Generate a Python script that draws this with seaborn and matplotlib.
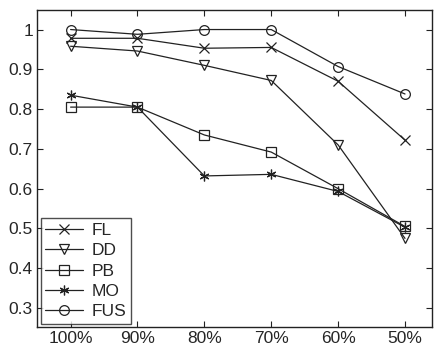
import pandas as pd
import matplotlib.pyplot as plt
import seaborn as sns

# Data
levels = ['100%', '90%', '80%', '70%', '60%', '50%']
fl = [0.978, 0.978, 0.953, 0.955, 0.870, 0.722]
dd = [0.958, 0.946, 0.910, 0.872, 0.710, 0.475]
pb = [0.805, 0.805, 0.735, 0.692, 0.600, 0.505]
mo = [0.835, 0.805, 0.632, 0.636, 0.593, 0.503]
fus = [1.000, 0.988, 1.000, 1.000, 0.907, 0.838]

series = {'FL': fl, 'DD': dd, 'PB': pb, 'MO': mo, 'FUS': fus}
markers = {'FL': 'x', 'DD': 'v', 'PB': 's', 'MO': (6, 2, 0), 'FUS': 'o'}

rows = []
for name, vals in series.items():
    for i, v in enumerate(vals):
        rows.append({'pos': i + 1, 'value': v, 'method': name})
df = pd.DataFrame(rows)

sns.set_style('ticks')
plt.rcParams['font.family'] = ['Liberation Sans', 'DejaVu Sans']

fig, ax = plt.subplots(figsize=(4.37, 3.48), dpi=100)

for name in series:
    sub = df[df['method'] == name]
    sns.lineplot(data=sub, x='pos', y='value', ax=ax, color='#222222',
                 linewidth=0.9, marker=markers[name], markersize=7,
                 markerfacecolor='none', markeredgecolor='#222222',
                 markeredgewidth=0.9, label=name)

ax.set_xlim(0.5, 6.4)
ax.set_ylim(0.252, 1.048)
ax.set_xticks(range(1, 7))
ax.set_xticklabels(levels)
ax.set_yticks([0.3, 0.4, 0.5, 0.6, 0.7, 0.8, 0.9, 1.0])
ax.set_yticklabels(['0.3', '0.4', '0.5', '0.6', '0.7', '0.8', '0.9', '1'])
ax.set_xlabel('')
ax.set_ylabel('')
ax.tick_params(direction='in', top=True, right=True, labelsize=12.5,
               length=4, width=0.8, color='#222222', pad=3)
for s in ax.spines.values():
    s.set_visible(True)
    s.set_linewidth(1.0)
    s.set_color('#222222')

leg = ax.legend(loc='lower left', fontsize=12.5, frameon=True, fancybox=False,
                borderaxespad=0.2, handlelength=2.2, labelspacing=0.3,
                borderpad=0.25, handletextpad=0.5)
leg.get_frame().set_edgecolor('#222222')
leg.get_frame().set_linewidth(1.0)

plt.subplots_adjust(left=0.085, right=0.988, top=0.97, bottom=0.06)
plt.savefig('out.png', dpi=100)
